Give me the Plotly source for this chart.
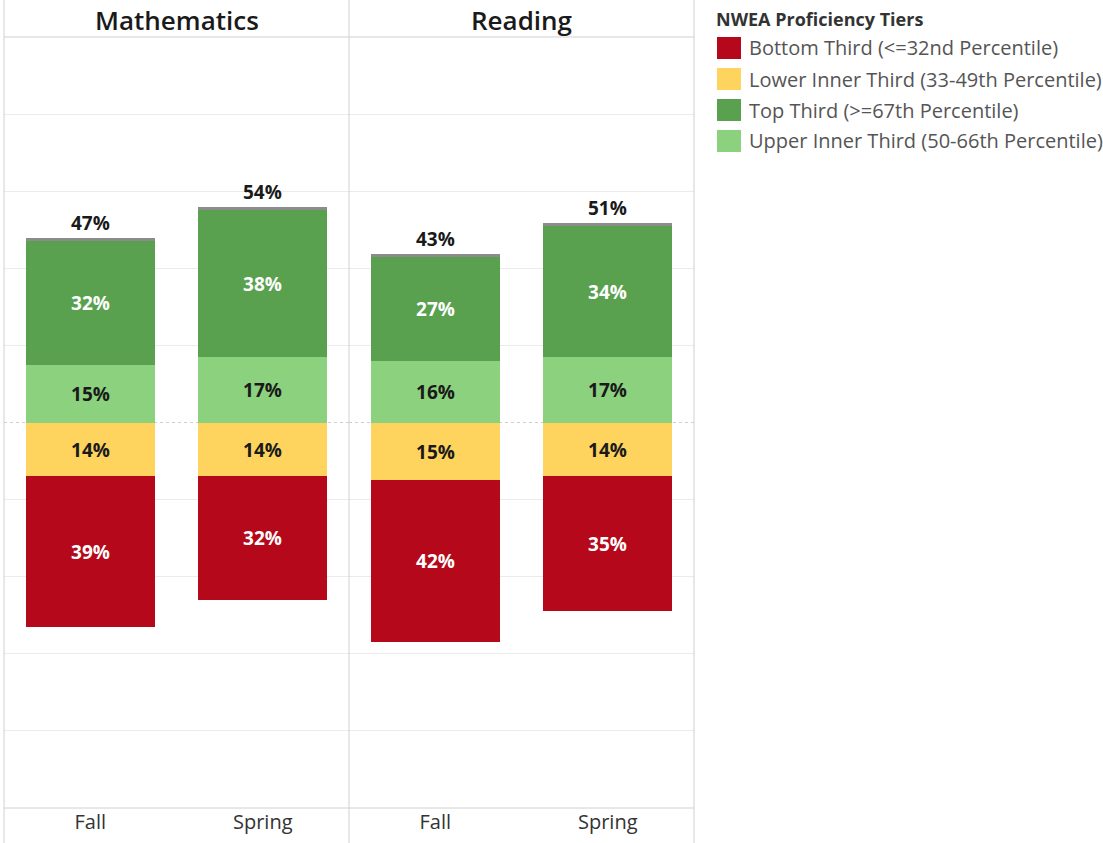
import plotly.graph_objects as go

subjects = ["Mathematics", "Reading"]
terms = ["Fall", "Spring"]
tier_names = [
    "Bottom Third (<=32nd Percentile)",
    "Lower Inner Third (33-49th Percentile)",
    "Top Third (>=67th Percentile)",
    "Upper Inner Third (50-66th Percentile)",
]
tier_colors = ["#B5081A", "#FFD45E", "#59A14F", "#8CD17D"]

# values per subject: [Fall, Spring]
bottom_third = {"Mathematics": [39, 32], "Reading": [42, 35]}
lower_inner = {"Mathematics": [14, 14], "Reading": [15, 14]}
top_third = {"Mathematics": [32, 38], "Reading": [27, 34]}
upper_inner = {"Mathematics": [15, 17], "Reading": [16, 17]}
# total proficient labels (top + upper inner, as reported)
total_labels = {"Mathematics": [47, 54], "Reading": [43, 51]}

FONT = "Open Sans"
fig = go.Figure()
xpos = [0, 1]

for i, subj in enumerate(subjects):
    xa = "x" if i == 0 else "x2"
    ya = "y" if i == 0 else "y2"
    series = [
        (upper_inner[subj], 1, tier_colors[3], "#1a1a1a"),
        (top_third[subj], 1, tier_colors[2], "white"),
        (lower_inner[subj], -1, tier_colors[1], "#1a1a1a"),
        (bottom_third[subj], -1, tier_colors[0], "white"),
    ]
    for vals, sign, col, tcol in series:
        fig.add_trace(go.Bar(
            x=xpos, y=[sign * v for v in vals], width=0.75,
            marker=dict(color=col, line=dict(width=0)),
            text=[f"{v}%" for v in vals], textposition="inside",
            insidetextanchor="middle", textangle=0,
            textfont=dict(family=FONT, size=19, color=tcol, weight="bold"),
            xaxis=xa, yaxis=ya, showlegend=False, hoverinfo="skip",
        ))
    totals = [a + b for a, b in zip(upper_inner[subj], top_third[subj])]
    # thin grey cap on top of each bar
    fig.add_trace(go.Bar(
        x=xpos, y=[0.8 for _ in totals], width=0.75,
        marker=dict(color="#8c8c8c", line=dict(width=0)),
        xaxis=xa, yaxis=ya, showlegend=False, hoverinfo="skip",
    ))
    for xp, t, lab in zip(xpos, totals, total_labels[subj]):
        fig.add_annotation(
            x=xp, y=t, xref=xa, yref=ya, text=f"<b>{lab}%</b>",
            showarrow=False, yanchor="bottom", yshift=3,
            font=dict(family=FONT, size=19, color="#1a1a1a"),
        )

axis_common = dict(
    range=[-0.5, 1.5], tickvals=xpos, ticktext=terms, showgrid=False,
    zeroline=False, showline=False, ticks="",
    tickfont=dict(family=FONT, size=20, color="#333333"),
)
yaxis_common = dict(
    range=[-100, 100], tickvals=[-80, -60, -40, -20, 20, 40, 60, 80],
    showticklabels=False, showgrid=True, gridcolor="#ebebeb", gridwidth=1,
    zeroline=False, showline=False, ticks="",
)

fig.update_layout(
    width=1103, height=843,
    margin=dict(l=4, r=409, t=37, b=35),
    paper_bgcolor="white", plot_bgcolor="white",
    barmode="relative", bargap=0,
    xaxis=dict(domain=[0, 0.5], anchor="y", **axis_common),
    xaxis2=dict(domain=[0.5, 1], anchor="y2", **axis_common),
    yaxis=dict(domain=[0, 1], anchor="x", **yaxis_common),
    yaxis2=dict(domain=[0, 1], anchor="x2", **yaxis_common),
    font=dict(family=FONT),
)

# zero line (dotted)
for xr, yr in [("x domain", "y"), ("x2 domain", "y2")]:
    fig.add_shape(type="line", xref=xr, yref=yr,
                  x0=0, x1=1, y0=0, y1=0,
                  line=dict(color="#cfcfcf", width=1, dash="dot"), layer="below")

# frame lines (paper coords)
def py(p):
    return (808 - p) / 771.0


def pxx(p):
    return (p - 4) / 690.0


frame_col = "#d0d0d0"
for px in [4, 349, 694]:
    xp = pxx(px)
    fig.add_shape(type="line", xref="paper", yref="paper", x0=xp, x1=xp,
                  y0=py(843), y1=py(0), line=dict(color=frame_col, width=1))
for p in [37, 808]:
    fig.add_shape(type="line", xref="paper", yref="paper", x0=0, x1=1,
                  y0=py(p), y1=py(p), line=dict(color=frame_col, width=1))

# subject headers
for i, subj in enumerate(subjects):
    fig.add_annotation(text=subj, xref="paper", yref="paper",
                       x=0.25 + 0.5 * i, y=py(20), xanchor="center", yanchor="middle",
                       showarrow=False,
                       font=dict(family=FONT, size=26, color="#1a1a1a", weight=600))

# legend (manual)
fig.add_annotation(text="<b>NWEA Proficiency Tiers</b>", xref="paper", yref="paper",
                   x=pxx(714), y=py(19), xanchor="left", yanchor="middle",
                   showarrow=False, font=dict(family=FONT, size=18, color="#333333"))
for k, (name, col) in enumerate(zip(tier_names, tier_colors)):
    top = 37 + 31 * k
    fig.add_shape(type="rect", xref="paper", yref="paper",
                  x0=pxx(717), x1=pxx(741), y0=py(top + 22), y1=py(top),
                  fillcolor=col, line=dict(width=0))
    fig.add_annotation(text=name, xref="paper", yref="paper",
                       x=pxx(747), y=py(top + 11), xanchor="left", yanchor="middle",
                       showarrow=False, font=dict(family=FONT, size=20, color="#555555"))

fig.write_html("out.html", config={"displayModeBar": False},
               post_script="document.body.style.margin='0px';")
